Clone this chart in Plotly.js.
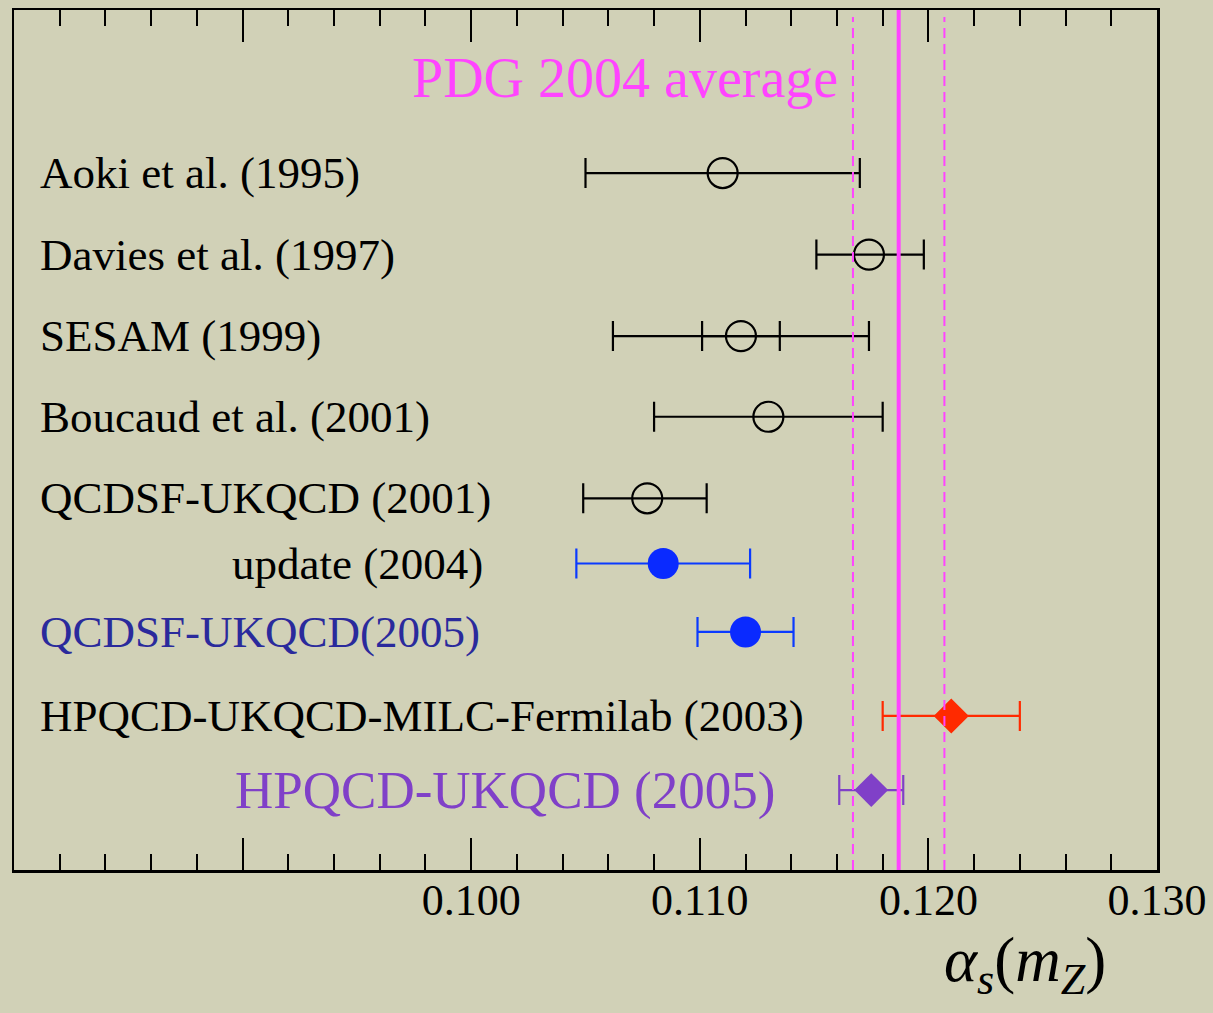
<!DOCTYPE html>
<html>
<head>
<meta charset="utf-8">
<script src="https://cdn.plot.ly/plotly-3.0.1.min.js"></script>
<style>html,body{margin:0;padding:0;background:#d1d1b7;}</style>
</head>
<body>
<div id="chart" style="width:1213px;height:1013px;"></div>
<script>
// ---- data ----
const labels = [
  "Aoki et al. (1995)",
  "Davies et al. (1997)",
  "SESAM (1999)",
  "Boucaud et al. (2001)",
  "QCDSF-UKQCD (2001)",
  "update (2004)",
  "QCDSF-UKQCD(2005)",
  "HPQCD-UKQCD-MILC-Fermilab (2003)",
  "HPQCD-UKQCD (2005)"
];
const rowPos = [1.0, 2.0, 3.0, 3.99, 4.99, 5.79, 6.63, 7.66, 8.57];
const alphaS = [0.1110, 0.1174, 0.1118, 0.1130, 0.1077, 0.1084, 0.1120, 0.1210, 0.1175];
const errMinus = [0.0060, 0.0023, 0.0056, 0.0050, 0.0028, 0.0038, 0.0021, 0.0030, 0.0014];
const errPlus  = [0.0060, 0.0024, 0.0056, 0.0050, 0.0026, 0.0038, 0.0021, 0.0030, 0.0014];
const group = ["open", "open", "open", "open", "open", "blue", "blue", "red", "purple"];
// SESAM inner (statistical) error
const sesamIndex = 2;
const sesamInnerErr = 0.0017;
// PDG 2004 average
const pdgValue = 0.1187;
const pdgError = 0.0020;
const pdgLabel = "PDG 2004 average";
const majorTicks = [0.080, 0.090, 0.100, 0.110, 0.120, 0.130];
const labelTicks = [0.100, 0.110, 0.120, 0.130];
const labelTickText = ["0.100", "0.110", "0.120", "0.130"];

// ---- styles ----
const styles = {
  open:   {symbol: "circle-open", size: 30, color: "black", line: 2.2, err: "black"},
  blue:   {symbol: "circle", size: 31, color: "#0a2aff", line: 0, err: "#0a3aff"},
  red:    {symbol: "diamond", size: 27, color: "#ff2a00", line: 0, err: "#ff2a00"},
  purple: {symbol: "diamond", size: 26, color: "#8040c8", line: 0, err: "#8040c8"}
};
const labelStyle = [
  {x: 0.08105, color: "black", size: 45},
  {x: 0.08105, color: "black", size: 45},
  {x: 0.08105, color: "black", size: 45},
  {x: 0.08105, color: "black", size: 45},
  {x: 0.08105, color: "black", size: 45},
  {x: 0.08945, color: "black", size: 45},
  {x: 0.08105, color: "#2a2a9c", size: 45},
  {x: 0.08105, color: "black", size: 45},
  {x: 0.08958, color: "#8040c8", size: 53}
];
const FONT = "Liberation Serif, Times New Roman, serif";

const traces = [];
// SESAM inner (statistical) error bar
traces.push({
  x: [alphaS[sesamIndex]], y: [rowPos[sesamIndex]], type: "scatter", mode: "markers",
  marker: {size: 1, color: "rgba(0,0,0,0)"},
  error_x: {type: "data", symmetric: true, array: [sesamInnerErr], color: "black", thickness: 2.2, width: 15},
  hoverinfo: "skip", showlegend: false
});
for (let i = 0; i < labels.length; i++) {
  const s = styles[group[i]];
  traces.push({
    x: [alphaS[i]], y: [rowPos[i]], type: "scatter", mode: "markers", name: labels[i],
    marker: {symbol: s.symbol, size: s.size, color: s.color, line: {width: s.line, color: s.color}},
    error_x: {type: "data", symmetric: false, array: [errPlus[i]], arrayminus: [errMinus[i]],
              color: s.err, thickness: 2.2, width: 15},
    showlegend: false
  });
}
// invisible trace carrying the labelled tick axis
traces.push({
  x: [pdgValue], y: [rowPos[0]], xaxis: "x2", yaxis: "y", type: "scatter", mode: "markers",
  marker: {size: 1, color: "rgba(0,0,0,0)"}, hoverinfo: "skip", showlegend: false
});

const annotations = labels.map((t, i) => ({
  x: labelStyle[i].x, y: rowPos[i], xref: "x", yref: "y", text: t, showarrow: false,
  xanchor: "left", yanchor: "middle",
  font: {family: FONT, size: labelStyle[i].size, color: labelStyle[i].color}
}));
annotations.push({
  x: 0.09732, y: -0.17, xref: "x", yref: "y", text: pdgLabel, showarrow: false,
  xanchor: "left", yanchor: "middle", font: {family: FONT, size: 56, color: "#ff44ff"}
});
annotations.push({
  x: 0.8845, y: -0.11, xref: "paper", yref: "paper", showarrow: false,
  xanchor: "center", yanchor: "middle",
  text: "<i>α</i><sub><i>s</i></sub>(<i>m</i><sub><i>Z</i></sub>)",
  font: {family: FONT, size: 63, color: "black"}
});

const shapes = [
  {type: "line", xref: "x", yref: "paper", x0: pdgValue, x1: pdgValue, y0: 0, y1: 1,
   line: {color: "#ff44ff", width: 4}, layer: "above"},
  {type: "line", xref: "x", yref: "paper", x0: pdgValue - pdgError, x1: pdgValue - pdgError, y0: 0, y1: 0.992,
   line: {color: "#ff44ff", width: 2, dash: "10px,6px"}, layer: "above"},
  {type: "line", xref: "x", yref: "paper", x0: pdgValue + pdgError, x1: pdgValue + pdgError, y0: 0, y1: 0.992,
   line: {color: "#ff44ff", width: 2, dash: "10px,6px"}, layer: "above"}
];

const layout = {
  width: 1213, height: 1013,
  margin: {l: 14, r: 56, t: 10, b: 143},
  paper_bgcolor: "#d1d1b7", plot_bgcolor: "#d1d1b7",
  font: {family: FONT, color: "black"},
  xaxis: {
    range: [0.080, 0.130], showgrid: false, zeroline: false,
    showline: true, linecolor: "black", linewidth: 2.5, mirror: "allticks",
    ticks: "inside", ticklen: 32, tickwidth: 2, tickcolor: "black",
    tickmode: "array", tickvals: majorTicks, showticklabels: false,
    minor: {tickmode: "linear", tick0: 0.080, dtick: 0.002, ticks: "inside", ticklen: 16, tickwidth: 2, tickcolor: "black", showgrid: false}
  },
  xaxis2: {
    overlaying: "x", matches: "x", anchor: "y", side: "bottom",
    range: [0.080, 0.130], showgrid: false, zeroline: false, showline: false,
    ticks: "", tickmode: "array", tickvals: labelTicks, ticktext: labelTickText,
    tickfont: {family: FONT, size: 44, color: "black"}
  },
  yaxis: {
    range: [9.55, -1.0], showgrid: false, zeroline: false,
    showline: true, linecolor: "black", linewidth: 2.5, mirror: true,
    showticklabels: false, ticks: ""
  },
  shapes: shapes,
  annotations: annotations,
  showlegend: false
};

Plotly.newPlot("chart", traces, layout, {displayModeBar: false, staticPlot: true});
</script>
</body>
</html>
